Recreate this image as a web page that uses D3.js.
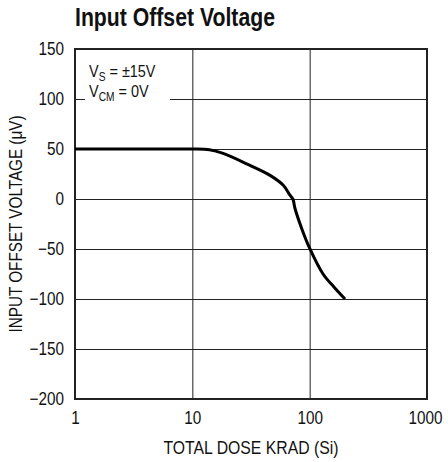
<!DOCTYPE html>
<html>
<head>
<meta charset="utf-8">
<script src="https://cdnjs.cloudflare.com/ajax/libs/d3/7.8.5/d3.min.js"></script>
<style>
  body { margin: 0; background: #fff; }
  svg text { font-family: "Liberation Sans", Arial, sans-serif; fill: #111; }
</style>
</head>
<body>
<svg width="448" height="462"></svg>
<script>
// curve
var dose   = [1, 6, 10, 14, 18.3, 31, 46, 59.6, 68, 72, 75, 85.5, 99.5, 130, 161, 200];
var offset = [50, 50, 50, 49.3, 45.6, 33.6, 23.6, 13.7, 3.8, -0.2, -9.5, -29.4, -48.7, -75, -88, -100];
var xTicks = [1, 10, 100, 1000];
var yTicks = [-200, -150, -100, -50, 0, 50, 100, 150];

var svg = d3.select("svg");
var pLeft = 75, pRight = 427, pTop = 49, pBottom = 399;
var squeeze = 0.85; // fake a condensed face

var x = d3.scaleLog().domain([1, 1000]).range([pLeft, pRight]);
var y = d3.scaleLinear().domain([-200, 150]).range([pBottom, pTop]);

svg.append("text")
  .attr("x", 75).attr("y", 26)
  .attr("textLength", 200).attr("lengthAdjust", "spacingAndGlyphs")
  .style("font-size", "25px").style("font-weight", "bold")
  .text("Input Offset Voltage");

// grid
svg.append("g")
  .attr("transform", "translate(0," + pBottom + ")")
  .call(d3.axisBottom(x).tickValues(xTicks).tickSize(-(pBottom - pTop)).tickFormat(""))
  .call(g => g.select(".domain").remove())
  .selectAll("line").attr("stroke", "#222").attr("stroke-width", 1);

svg.append("g")
  .attr("transform", "translate(" + pLeft + ",0)")
  .call(d3.axisLeft(y).tickValues(yTicks).tickSize(-(pRight - pLeft)).tickFormat(""))
  .call(g => g.select(".domain").remove())
  .selectAll("line").attr("stroke", "#222").attr("stroke-width", 1);

// legend box hides part of the 100 line
svg.append("rect")
  .attr("x", 85).attr("y", 86).attr("width", 85).attr("height", 20)
  .attr("fill", "#fff");

var leg = svg.append("g")
  .attr("transform", "translate(89,0) scale(" + squeeze + ",1)")
  .style("font-size", "17px");
var t1 = leg.append("text").attr("x", 0).attr("y", 77);
t1.append("tspan").text("V");
t1.append("tspan").attr("dy", 4).style("font-size", "12px").text("S");
t1.append("tspan").attr("dy", -4).text(" = \u00b115V");
var t2 = leg.append("text").attr("x", 0).attr("y", 97);
t2.append("tspan").text("V");
t2.append("tspan").attr("dy", 4).style("font-size", "12px").text("CM");
t2.append("tspan").attr("dy", -4).text(" = 0V");

// frame
svg.append("rect")
  .attr("x", pLeft).attr("y", pTop)
  .attr("width", pRight - pLeft).attr("height", pBottom - pTop)
  .attr("fill", "none").attr("stroke", "#222").attr("stroke-width", 2);

// tick labels
var xAx = svg.append("g")
  .attr("transform", "translate(0," + pBottom + ")")
  .call(d3.axisBottom(x).tickValues(xTicks).tickSize(0).tickPadding(12).tickFormat(d3.format("d")));
xAx.select(".domain").remove();
xAx.selectAll("text").attr("class", "cond").style("font-size", "18px").attr("fill", "#111");
xAx.selectAll("text").filter(d => d === 1000).attr("dx", -2);

var yAx = svg.append("g")
  .attr("transform", "translate(" + pLeft + ",0)")
  .call(d3.axisLeft(y).tickValues(yTicks).tickSize(0).tickPadding(11)
    .tickFormat(d => d < 0 ? "\u2212" + Math.abs(d) : d));
yAx.select(".domain").remove();
yAx.selectAll("text").attr("class", "cond").style("font-size", "18px").attr("fill", "#111");

svg.selectAll("text.cond").each(function() {
  var w = this.getComputedTextLength();
  d3.select(this).attr("textLength", w * squeeze).attr("lengthAdjust", "spacingAndGlyphs");
});

svg.append("text")
  .attr("x", (pLeft + pRight) / 2).attr("y", 454)
  .attr("text-anchor", "middle").style("font-size", "18px")
  .attr("textLength", 175).attr("lengthAdjust", "spacingAndGlyphs")
  .text("TOTAL DOSE KRAD (Si)");

svg.append("text")
  .attr("transform", "translate(22," + (pTop + pBottom) / 2 + ") rotate(-90)")
  .attr("text-anchor", "middle").style("font-size", "18px")
  .attr("textLength", 217).attr("lengthAdjust", "spacingAndGlyphs")
  .text("INPUT OFFSET VOLTAGE (\u03bcV)");

// curve
var line = d3.line()
  .x((d, i) => x(dose[i]))
  .y(d => y(d))
  .curve(d3.curveCatmullRom.alpha(0.5));

svg.append("path")
  .attr("d", line(offset))
  .attr("fill", "none").attr("stroke", "#000").attr("stroke-width", 3)
  .attr("stroke-linejoin", "round").attr("stroke-linecap", "butt");
</script>
</body>
</html>
